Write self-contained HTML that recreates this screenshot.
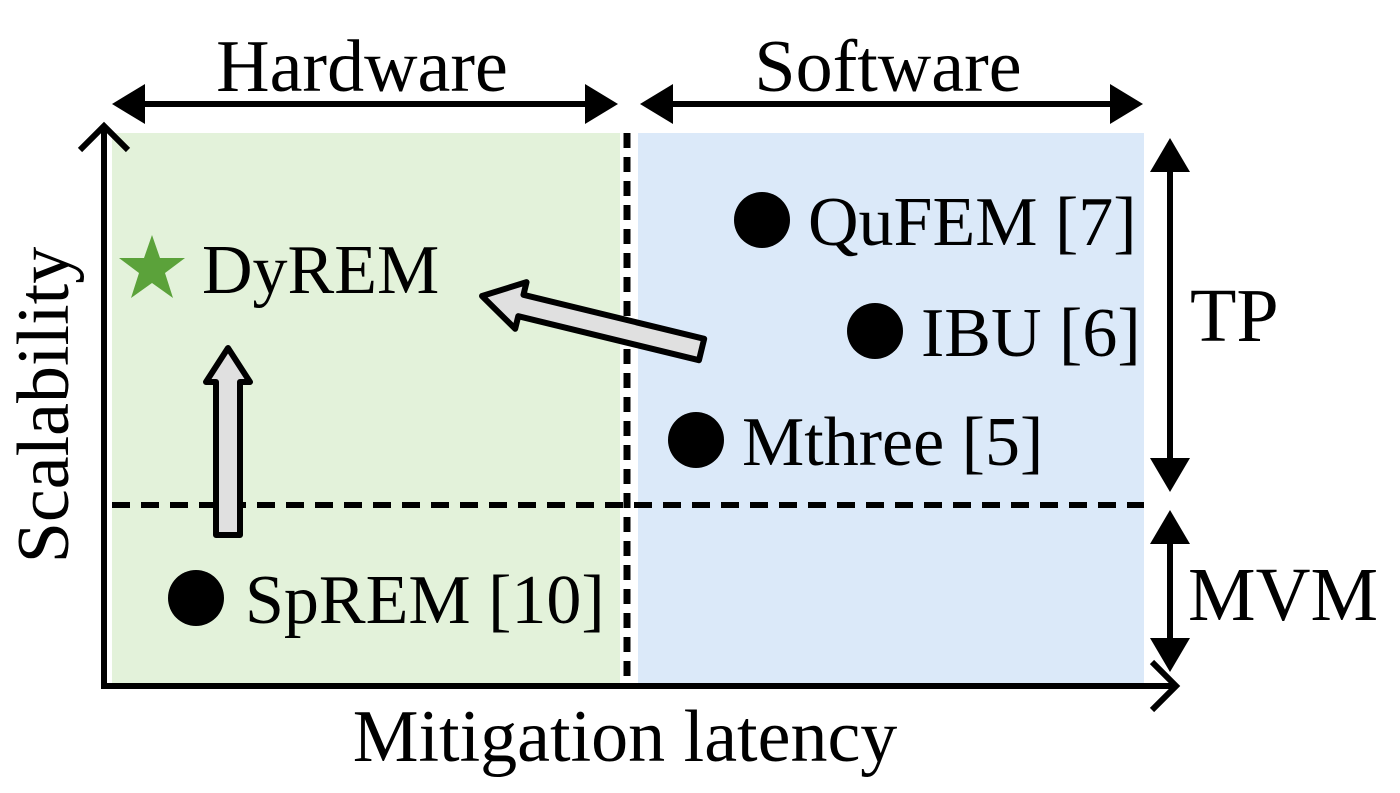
<!DOCTYPE html>
<html><head><style>html,body{margin:0;padding:0;background:#fff}svg{display:block}text{font-family:"Liberation Serif",serif;fill:#000}</style></head>
<body>
<svg width="1400" height="793" viewBox="0 0 1400 793" xmlns="http://www.w3.org/2000/svg">
<rect x="112" y="133" width="508" height="550" fill="#e3f2da"/>
<rect x="638" y="133" width="506" height="550" fill="#dbe9f9"/>
<!-- dashed lines -->
<line x1="627" y1="133" x2="627" y2="683" stroke="#000" stroke-width="7" stroke-dasharray="15,9"/>
<line x1="112" y1="505" x2="1144" y2="505" stroke="#000" stroke-width="6" stroke-dasharray="18,11"/>
<!-- axes -->
<path d="M104 688 V127 M80 150 L104 126 L128 150" fill="none" stroke="#000" stroke-width="6"/>
<path d="M101 686 H1175 M1152 662 L1176 686 L1152 710" fill="none" stroke="#000" stroke-width="6"/>
<!-- Hardware / Software arrows -->
<line x1="140" y1="104" x2="590" y2="104" stroke="#000" stroke-width="6"/>
<polygon points="112,104 145,84 145,124" fill="#000"/>
<polygon points="618,104 585,84 585,124" fill="#000"/>
<line x1="668" y1="104" x2="1115" y2="104" stroke="#000" stroke-width="6"/>
<polygon points="640,104 673,84 673,124" fill="#000"/>
<polygon points="1143,104 1110,84 1110,124" fill="#000"/>
<!-- TP / MVM -->
<line x1="1170" y1="165" x2="1170" y2="465" stroke="#000" stroke-width="6"/>
<polygon points="1170,138 1150,172 1190,172" fill="#000"/>
<polygon points="1170,492 1150,458 1190,458" fill="#000"/>
<line x1="1170" y1="535" x2="1170" y2="650" stroke="#000" stroke-width="6"/>
<polygon points="1170,510 1150,544 1190,544" fill="#000"/>
<polygon points="1170,672 1150,638 1190,638" fill="#000"/>
<!-- labels -->
<text x="362" y="91" font-size="74" text-anchor="middle">Hardware</text>
<text x="888" y="91" font-size="74" text-anchor="middle">Software</text>
<text x="1190" y="341" font-size="76">TP</text>
<text x="1188" y="620" font-size="76">MVM</text>
<text x="625" y="761" font-size="74" text-anchor="middle">Mitigation latency</text>
<text transform="translate(68,405) rotate(-90)" font-size="74" text-anchor="middle">Scalability</text>
<!-- points -->
<circle cx="762" cy="220" r="28" fill="#000"/>
<text x="808" y="245" font-size="70">QuFEM [7]</text>
<circle cx="875" cy="331" r="28" fill="#000"/>
<text x="921" y="356" font-size="70">IBU [6]</text>
<circle cx="696" cy="440" r="28" fill="#000"/>
<text x="742" y="465" font-size="70">Mthree [5]</text>
<circle cx="196" cy="598" r="28" fill="#000"/>
<text x="245" y="623" font-size="70">SpREM [10]</text>
<polygon points="152,235 160,258 185,258 165,273 173,298 152,283 131,298 139,273 119,258 144,258" fill="#5ba23a"/>
<text x="202" y="293" font-size="70">DyREM</text>
<!-- hollow arrows -->
<polygon points="228,348 250,382 240,382 240,535 216,535 216,382 206,382" fill="#e0e0e0" stroke="#000" stroke-width="6" stroke-linejoin="round"/>
<g transform="translate(482,296) rotate(13.7)">
<polygon points="0,0 40,-24 40,-11 226,-11 226,11 40,11 40,24" fill="#e0e0e0" stroke="#000" stroke-width="6" stroke-linejoin="round"/>
</g>
</svg>
</body></html>
